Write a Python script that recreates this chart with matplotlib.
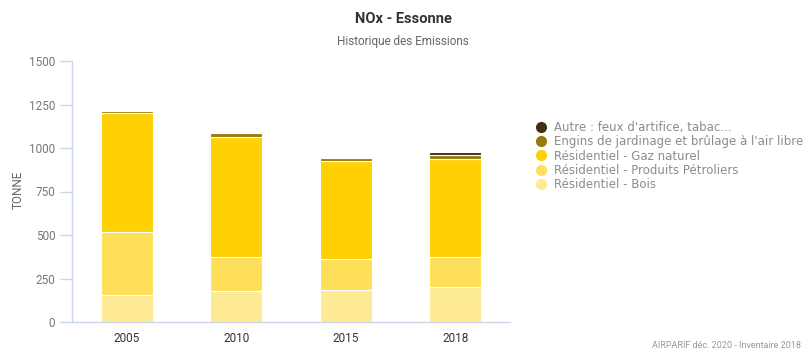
import matplotlib
matplotlib.use("Agg")
import matplotlib.pyplot as plt
from matplotlib.lines import Line2D
import numpy as np

years = ["2005", "2010", "2015", "2018"]
bois = [153, 177, 182, 202]
produits_petroliers = [364, 194, 178, 169]
gaz_naturel = [682, 694, 563, 564]
engins = [12, 20, 22, 26]
autre = [5, 3, 3, 14]

series = [
    ("Résidentiel - Bois", bois, "#FEEA93"),
    ("Résidentiel - Produits Pétroliers", produits_petroliers, "#FEDF5A"),
    ("Résidentiel - Gaz naturel", gaz_naturel, "#FFD004"),
    ("Engins de jardinage et brûlage à l'air libre", engins, "#967A0F"),
    ("Autre : feux d'artifice, tabac...", autre, "#3E3210"),
]

narrow = ["Liberation Sans Narrow", "Roboto", "DejaVu Sans"]
axis_col = "#CCD6EB"
label_col = "#666666"

fig = plt.figure(figsize=(8.06, 3.58), dpi=100)
ax = fig.add_axes([72 / 806, 1 - 322 / 358, (510 - 72) / 806, (322 - 61) / 358])

x = np.arange(len(years))
bottom = np.zeros(len(years))
for name, vals, col in series:
    ax.bar(x, vals, bottom=bottom, width=0.475, color=col,
           edgecolor="white", linewidth=0.8, zorder=2)
    bottom += np.array(vals)

ax.set_xlim(-0.5, len(years) - 0.5)
ax.set_ylim(0, 1500)
ax.set_yticks([0, 250, 500, 750, 1000, 1250, 1500])
ax.set_xticks(x)
ax.set_xticklabels(years)

for s in ["top", "right"]:
    ax.spines[s].set_visible(False)
for s in ["left", "bottom"]:
    ax.spines[s].set_color(axis_col)
    ax.spines[s].set_linewidth(1)

ax.tick_params(axis="y", length=9, width=1, color=axis_col, pad=3,
               labelsize=8.5, labelcolor="#777777")
ax.tick_params(axis="x", length=0, pad=7, labelsize=8.5, labelcolor="#333333")
for lab in ax.get_yticklabels() + ax.get_xticklabels():
    lab.set_family(narrow)

fig.text(18 / 806, 1 - 190 / 358, "TONNE", rotation=90, ha="center", va="center",
         fontsize=8.5, color=label_col, family=narrow)

fig.text(403 / 806, 1 - 19 / 358, "NOx - Essonne", ha="center", va="center",
         fontsize=10.5, fontweight="bold", color="#333333", family=narrow)
fig.text(403 / 806, 1 - 41 / 358, "Historique des Emissions", ha="center", va="center",
         fontsize=8.5, color=label_col, family=narrow)

fig.text(801 / 806, 1 - 345 / 358, "AIRPARIF déc. 2020 - Inventaire 2018",
         ha="right", va="center", fontsize=6.5, color="#999999", family=narrow)

# legend, drawn top entry first (reverse of stacking order)
handles = []
labels = []
for name, vals, col in reversed(series):
    handles.append(Line2D([], [], marker="o", linestyle="none", markersize=7,
                          markerfacecolor=col, markeredgecolor=col))
    labels.append(name)
fig.legend(handles, labels, loc="upper left", bbox_to_anchor=(529 / 806, 1 - 116 / 358),
           frameon=False, labelcolor="#8C8C8C", handletextpad=0.55,
           labelspacing=0.12, borderaxespad=0, handlelength=1.2,
           prop={"family": "DejaVu Sans", "size": 8.5})

fig.savefig("out.png", dpi=100)
